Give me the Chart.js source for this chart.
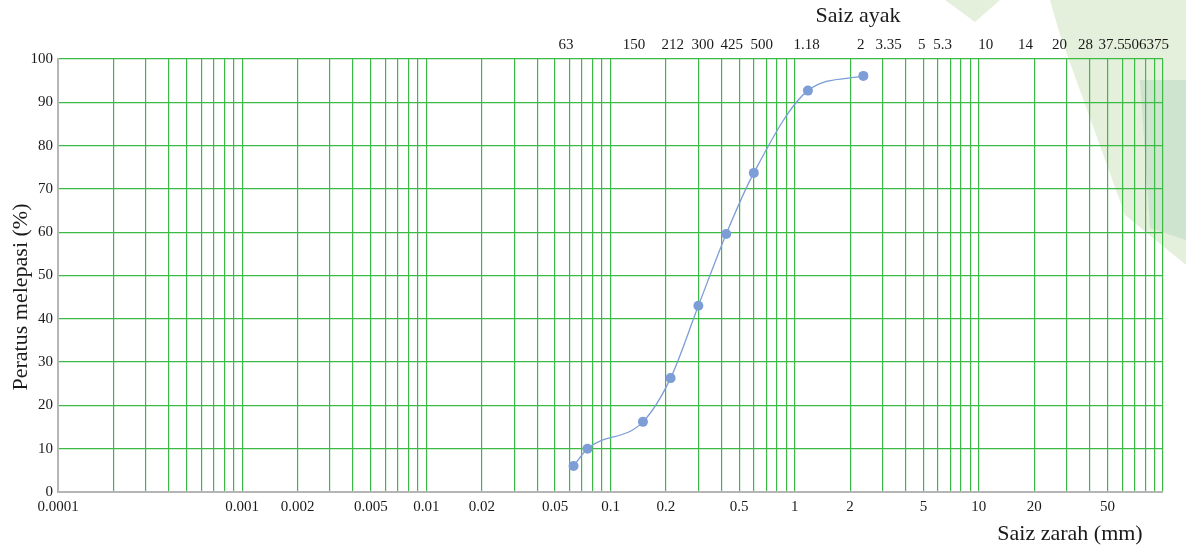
<!DOCTYPE html>
<html>
<head>
<meta charset="utf-8">
<script src="https://cdn.jsdelivr.net/npm/chart.js@4.4.1/dist/chart.umd.min.js"></script>
<style>
  html, body { margin: 0; padding: 0; background: #ffffff; }
  #wrap { width: 1186px; height: 551px; position: relative; }
</style>
</head>
<body>
<div id="wrap"><canvas id="c" width="1186" height="551"></canvas></div>
<script>
// ---- data ----
const particleSizes = [0.063, 0.075, 0.15, 0.212, 0.3, 0.425, 0.6, 1.18, 2.36];   // mm
const percentPassing = [6, 10, 16.2, 26.3, 43, 59.6, 73.7, 92.7, 96.1];           // %

// bottom axis labels (mm)
const bottomTickValues = [0.0001, 0.001, 0.002, 0.005, 0.01, 0.02, 0.05, 0.1, 0.2, 0.5, 1, 2, 5, 10, 20, 50];
const bottomTickLabels = ['0.0001', '0.001', '0.002', '0.005', '0.01', '0.02', '0.05', '0.1', '0.2', '0.5', '1', '2', '5', '10', '20', '50'];

// top axis (sieve sizes) labels and where they sit along the axis (mm)
const sieveLabels = ['63', '150', '212', '300', '425', '500', '1.18', '2', '3.35', '5', '5.3', '10', '14', '20', '28', '37.5', '50', '63', '75'];
const sieveLabelAt = [0.0573, 0.134, 0.218, 0.317, 0.456, 0.663, 1.163, 2.284, 3.24, 4.894, 6.36, 10.89, 17.95, 27.45, 37.97, 52.56, 67.4, 81.4, 98.2];

const yTicks = { min: 0, max: 100, step: 10 };
const xRange = { min: 0.0001, max: 100 };

const titleTop = 'Saiz ayak';
const titleBottom = 'Saiz zarah (mm)';
const titleLeft = 'Peratus melepasi (%)';

// ---- styling ----
const FONT = "'Liberation Serif', 'DejaVu Serif', serif";
const GRID = 'rgb(60,186,70)';
const AXIS_GREY = '#b5b5b5';
const MARK = '#7d9dd6';

// log grid: every 1..9 x 10^k
const gridValues = [];
for (let e = -4; e <= 1; e++) {
  for (let m = 1; m <= 9; m++) gridValues.push(+(m * Math.pow(10, e)).toPrecision(6));
}
gridValues.push(100);

function bottomLabelFor(v) {
  for (let i = 0; i < bottomTickValues.length; i++) {
    if (Math.abs(v - bottomTickValues[i]) / bottomTickValues[i] < 1e-6) return bottomTickLabels[i];
  }
  return '';
}

const decoPlugin = {
  id: 'deco',
  beforeDraw(chart) {
    const ctx = chart.ctx;
    ctx.save();
    ctx.fillStyle = '#ffffff';
    ctx.fillRect(0, 0, chart.width, chart.height);
    ctx.fillStyle = 'rgba(205,228,190,0.55)';
    ctx.beginPath();
    ctx.moveTo(1050, 0); ctx.lineTo(1186, 0); ctx.lineTo(1186, 265); ctx.lineTo(1125, 215); ctx.lineTo(1060, 35);
    ctx.closePath(); ctx.fill();
    ctx.beginPath();
    ctx.moveTo(945, 0); ctx.lineTo(1000, 0); ctx.lineTo(975, 22);
    ctx.closePath(); ctx.fill();
    ctx.fillStyle = 'rgba(185,215,195,0.5)';
    ctx.beginPath();
    ctx.moveTo(1140, 80); ctx.lineTo(1186, 80); ctx.lineTo(1186, 240); ctx.lineTo(1150, 228);
    ctx.closePath(); ctx.fill();
    ctx.restore();
  }
};

const titlesPlugin = {
  id: 'titles',
  afterDraw(chart) {
    const ctx = chart.ctx;
    ctx.save();
    ctx.fillStyle = '#1a1a1a';
    ctx.font = '22px ' + FONT;
    ctx.textBaseline = 'alphabetic';
    ctx.textAlign = 'center';
    ctx.fillText(titleTop, 858, 22);
    ctx.fillText(titleBottom, 1070, 540);
    ctx.translate(27, 297);
    ctx.rotate(-Math.PI / 2);
    ctx.fillText(titleLeft, 0, 0);
    ctx.restore();
  }
};

new Chart(document.getElementById('c'), {
  type: 'line',
  data: {
    datasets: [{
      data: particleSizes.map((s, i) => ({ x: s, y: percentPassing[i] })),
      borderColor: MARK,
      backgroundColor: MARK,
      borderWidth: 1.3,
      pointRadius: 5,
      pointHoverRadius: 5,
      pointBorderWidth: 0,
      tension: 0.4,
      cubicInterpolationMode: 'monotone',
      fill: false,
      xAxisID: 'x',
      yAxisID: 'y'
    }]
  },
  options: {
    responsive: false,
    animation: false,
    events: [],
    layout: { padding: { left: 0, right: 23, top: 0, bottom: 0 } },
    plugins: { legend: { display: false }, tooltip: { enabled: false }, title: { display: false } },
    scales: {
      x: {
        type: 'logarithmic',
        position: 'bottom',
        min: xRange.min, max: xRange.max,
        afterBuildTicks(scale) { scale.ticks = gridValues.map(v => ({ value: v })); },
        afterFit(scale) { scale.height = 59; },
        grid: { color: GRID, lineWidth: 1.2, drawTicks: false },
        border: { color: AXIS_GREY, width: 2 },
        ticks: {
          autoSkip: false, maxRotation: 0, minRotation: 0, padding: 6,
          color: '#1a1a1a', font: { family: FONT, size: 15 },
          callback: (v) => bottomLabelFor(v)
        }
      },
      x2: {
        type: 'logarithmic',
        position: 'top',
        min: xRange.min, max: xRange.max,
        afterBuildTicks(scale) { scale.ticks = sieveLabelAt.map(v => ({ value: v })); },
        afterFit(scale) { scale.height = 59; },
        grid: { display: false, drawTicks: false },
        border: { display: false },
        ticks: {
          autoSkip: false, maxRotation: 0, minRotation: 0, padding: 5,
          color: '#1a1a1a', font: { family: FONT, size: 15 },
          callback: (v, i) => sieveLabels[i]
        }
      },
      y: {
        type: 'linear',
        position: 'left',
        min: yTicks.min, max: yTicks.max,
        afterFit(scale) { scale.width = 58; },
        grid: { color: GRID, lineWidth: 1.2, drawTicks: false },
        border: { color: AXIS_GREY, width: 2 },
        ticks: {
          stepSize: yTicks.step, padding: 5,
          color: '#1a1a1a', font: { family: FONT, size: 15 }
        }
      }
    }
  },
  plugins: [decoPlugin, titlesPlugin]
});
</script>
</body>
</html>
